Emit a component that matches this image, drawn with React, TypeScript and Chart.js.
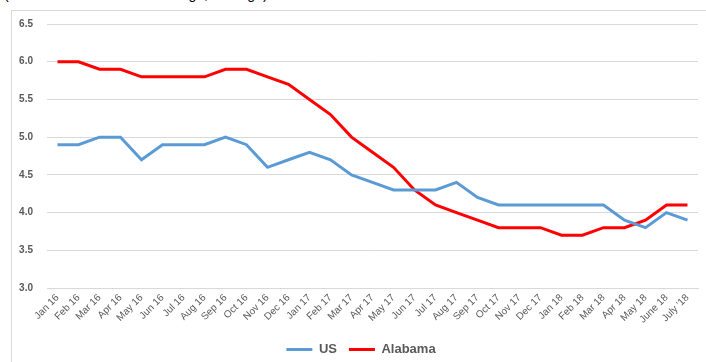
import React, { useEffect, useRef } from "react";
import { Chart, registerables } from "chart.js";

Chart.register(...registerables);

const categories = [
  "Jan 16", "Feb 16", "Mar 16", "Apr 16", "May 16", "Jun 16", "Jul 16", "Aug 16", "Sep 16", "Oct 16", "Nov 16", "Dec 16",
  "Jan 17", "Feb 17", "Mar 17", "Apr 17", "May 17", "Jun 17", "Jul 17", "Aug 17", "Sep 17", "Oct 17", "Nov 17", "Dec 17",
  "Jan 18", "Feb 18", "Mar 18", "Apr 18", "May 18", "June 18", "July '18",
];

const usValues = [
  4.9, 4.9, 5.0, 5.0, 4.7, 4.9, 4.9, 4.9, 5.0, 4.9, 4.6, 4.7,
  4.8, 4.7, 4.5, 4.4, 4.3, 4.3, 4.3, 4.4, 4.2, 4.1, 4.1, 4.1,
  4.1, 4.1, 4.1, 3.9, 3.8, 4.0, 3.9,
];

const alabamaValues = [
  6.0, 6.0, 5.9, 5.9, 5.8, 5.8, 5.8, 5.8, 5.9, 5.9, 5.8, 5.7,
  5.5, 5.3, 5.0, 4.8, 4.6, 4.3, 4.1, 4.0, 3.9, 3.8, 3.8, 3.8,
  3.7, 3.7, 3.8, 3.8, 3.9, 4.1, 4.1,
];

const yMin = 3.0;
const yMax = 6.5;
const yStep = 0.5;

const captionText = "(Total Labor Force Rate Change, Average)";

const legendShift = {
  id: "legendShift",
  afterLayout(chart: any) {
    const lg = chart.legend;
    if (lg) {
      lg.left += 12;
      lg.right += 12;
      lg.top += 4;
      lg.bottom += 4;
    }
  },
};

export default function App() {
  const canvasRef = useRef<HTMLCanvasElement | null>(null);

  useEffect(() => {
    const canvas = canvasRef.current;
    if (!canvas) return;
    const chart = new Chart(canvas, {
      type: "line",
      data: {
        labels: categories,
        datasets: [
          {
            label: "US",
            data: usValues,
            borderColor: "#5B9BD5",
            backgroundColor: "#5B9BD5",
            borderWidth: 3,
            pointRadius: 0,
            tension: 0,
          },
          {
            label: "Alabama",
            data: alabamaValues,
            borderColor: "#FF0000",
            backgroundColor: "#FF0000",
            borderWidth: 3,
            pointRadius: 0,
            tension: 0,
          },
        ],
      },
      options: {
        animation: false,
        responsive: false,
        maintainAspectRatio: false,
        layout: { padding: { top: 24, right: 8, left: 0, bottom: 0 } },
        plugins: {
          legend: {
            position: "bottom",
            labels: {
              usePointStyle: true,
              pointStyle: "line",
              pointStyleWidth: 26,
              boxHeight: 3,
              color: "#595959",
              font: { family: "Liberation Sans, Arial, sans-serif", size: 13, weight: "bold" },
              padding: 12,
            },
          },
          tooltip: { enabled: false },
        },
        scales: {
          x: {
            offset: true,
            grid: { display: false, drawTicks: false },
            border: { display: true, color: "#d9d9d9" },
            ticks: {
              autoSkip: false,
              maxRotation: 45,
              minRotation: 45,
              padding: 4,
              color: "#595959",
              font: { family: "Liberation Sans, Arial, sans-serif", size: 10 },
            },
            afterFit: (scale: any) => {
              scale.height = 39;
            },
          },
          y: {
            min: yMin,
            max: yMax,
            grid: { color: "#d9d9d9", drawTicks: false },
            border: { display: false },
            ticks: {
              stepSize: yStep,
              padding: 14,
              color: "#595959",
              font: { family: "Liberation Sans, Arial, sans-serif", size: 10, weight: "bold" },
              callback: (v: any) => Number(v).toFixed(1),
            },
            afterFit: (scale: any) => {
              scale.width = 47;
            },
          },
        },
      },
      plugins: [legendShift],
    });
    return () => chart.destroy();
  }, []);

  return (
    <div
      style={{
        position: "fixed",
        left: 0,
        top: 0,
        width: 706,
        height: 362,
        overflow: "hidden",
        background: "#ffffff",
      }}
    >
      <div
        style={{
          position: "absolute",
          left: 4,
          top: -14,
          whiteSpace: "nowrap",
          fontFamily: "Liberation Sans, Arial, sans-serif",
          fontSize: 14,
          color: "#000",
        }}
      >
        {captionText}
      </div>
      <div
        style={{
          position: "absolute",
          left: 11,
          top: 10,
          width: 740,
          height: 400,
          border: "1px solid #d9d9d9",
        }}
      />
      <canvas
        ref={canvasRef}
        width={706}
        height={362}
        style={{ position: "absolute", left: 0, top: 0 }}
      />
    </div>
  );
}
